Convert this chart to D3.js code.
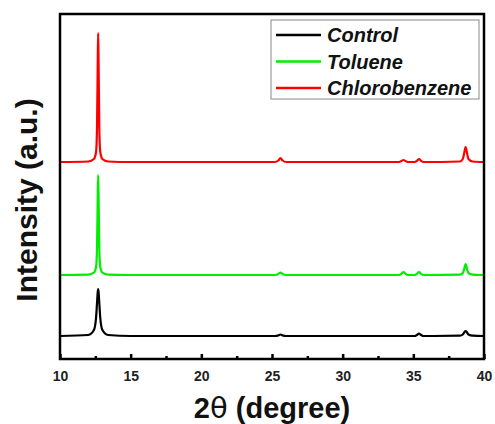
<!DOCTYPE html>
<html>
<head>
<meta charset="utf-8">
<script src="https://cdn.jsdelivr.net/npm/d3@7"></script>
<style>
  body { margin: 0; background: #fff; }
  text { font-family: "Liberation Sans", Arial, sans-serif; }
</style>
</head>
<body>
<svg id="chart" width="495" height="424"></svg>
<script>
// 2theta grid (degrees), shared by all patterns
var theta = [10, 12.0, 12.4, 12.55, 12.62, 12.67, 12.7, 12.73, 12.78, 12.85, 13.0, 13.4,
    15, 20, 25.2, 25.45, 25.6, 25.75, 26.0, 30,
    34.0, 34.15, 34.3, 34.45, 34.6, 35.1, 35.25, 35.4, 35.55, 35.7,
    38.3, 38.5, 38.6, 38.7, 38.8, 38.9, 39.2, 40];

var controlVals = [0, 1, 6, 18, 33, 44, 47, 44, 33, 18, 6, 1,
    0, 0, 0, 0.6, 1.5, 0.6, 0, 0,
    0, 0, 0, 0, 0, 0, 1, 2.5, 1, 0,
    0.3, 1.5, 3.5, 5, 3.5, 1.5, 0.3, 0];

var tolueneVals = [0, 0.4, 2.3, 8, 27, 78, 100, 78, 27, 8, 2.3, 0.4,
    0, 0, 0, 1, 2.5, 1, 0, 0,
    0, 1.2, 3, 1.2, 0, 0, 1.2, 3, 1.2, 0,
    0.4, 2, 6, 11, 6, 2, 0.4, 0];

var chloroVals = [0, 0.5, 3, 10, 35, 100, 129, 100, 35, 10, 3, 0.5,
    0, 0, 0, 1.5, 4, 1.5, 0, 0,
    0, 1, 2, 1, 0, 0, 1.2, 3, 1.2, 0,
    0.5, 3, 9, 15, 9, 3, 0.5, 0];

// vertical stacking offsets (a.u.)
var offsets = [23, 84, 197];
var seriesNames = ["Control", "Toluene", "Chlorobenzene"];
var seriesColors = ["#000000", "#00ee00", "#ff0000"];
var seriesVals = [controlVals, tolueneVals, chloroVals];

var xTicks = [10, 15, 20, 25, 30, 35, 40];
var xMinorTicks = [12.5, 17.5, 22.5, 27.5, 32.5, 37.5];

var svg = d3.select("#chart");
var plotL = 60, plotR = 484, plotT = 14, plotB = 359;

var x = d3.scaleLinear().domain([10, 40]).range([plotL, plotR]);
var y = d3.scaleLinear().domain([0, 345]).range([plotB, plotT]);

// curves
var line = d3.line()
    .x(function(d){ return x(d[0]); })
    .y(function(d){ return y(d[1]); })
    .curve(d3.curveMonotoneX);

seriesVals.forEach(function(vals, k){
    var pts = theta.map(function(t, i){ return [t, vals[i] + offsets[k]]; });
    svg.append("path")
        .attr("d", line(pts))
        .attr("fill", "none")
        .attr("stroke", seriesColors[k])
        .attr("stroke-width", 2.2)
        .attr("stroke-linejoin", "round");
});

// frame
svg.append("rect")
    .attr("x", plotL).attr("y", plotT)
    .attr("width", plotR - plotL).attr("height", plotB - plotT)
    .attr("fill", "none")
    .attr("stroke", "#000")
    .attr("stroke-width", 2.5);

// x axis ticks (inside)
var xAxis = d3.axisBottom(x).tickValues(xTicks).tickSize(-5).tickPadding(12);
var gx = svg.append("g").attr("transform", "translate(0," + plotB + ")").call(xAxis);
gx.select(".domain").remove();
gx.selectAll(".tick line").attr("stroke", "#000").attr("stroke-width", 2.5);
gx.selectAll(".tick text")
    .style("font-family", "Liberation Sans, Arial, sans-serif")
    .style("font-size", "14px")
    .style("font-weight", "bold")
    .attr("fill", "#222");

var gm = svg.append("g").attr("transform", "translate(0," + plotB + ")")
    .call(d3.axisBottom(x).tickValues(xMinorTicks).tickSize(-3).tickFormat(""));
gm.select(".domain").remove();
gm.selectAll(".tick line").attr("stroke", "#000").attr("stroke-width", 2.5);

// axis titles
var xt = svg.append("text")
    .attr("x", (plotL + plotR) / 2)
    .attr("y", 418)
    .attr("text-anchor", "middle")
    .style("font-size", "29px")
    .style("font-weight", "bold")
    .attr("fill", "#111");
xt.append("tspan").text("2");
xt.append("tspan").style("font-weight", "normal").style("font-family", "DejaVu Sans, sans-serif").text("\u03B8");
xt.append("tspan").text(" (degree)");

svg.append("text")
    .attr("transform", "translate(37,200) rotate(-90)")
    .attr("text-anchor", "middle")
    .style("font-size", "30px")
    .style("font-weight", "bold")
    .attr("fill", "#111")
    .text("Intensity (a.u.)");

// legend
var legend = svg.append("g");
legend.append("rect")
    .attr("x", 271).attr("y", 20)
    .attr("width", 208).attr("height", 79)
    .attr("fill", "#fff")
    .attr("stroke", "#888")
    .attr("stroke-width", 1);

seriesNames.forEach(function(name, k){
    var ly = 35 + k * 26.5;
    legend.append("line")
        .attr("x1", 276).attr("x2", 321)
        .attr("y1", ly).attr("y2", ly)
        .attr("stroke", seriesColors[k])
        .attr("stroke-width", 2.5);
    legend.append("text")
        .attr("x", 327).attr("y", ly + 7)
        .style("font-size", "20px")
        .style("font-weight", "bold")
        .style("font-style", "italic")
        .attr("fill", "#111")
        .text(name);
});
</script>
</body>
</html>
